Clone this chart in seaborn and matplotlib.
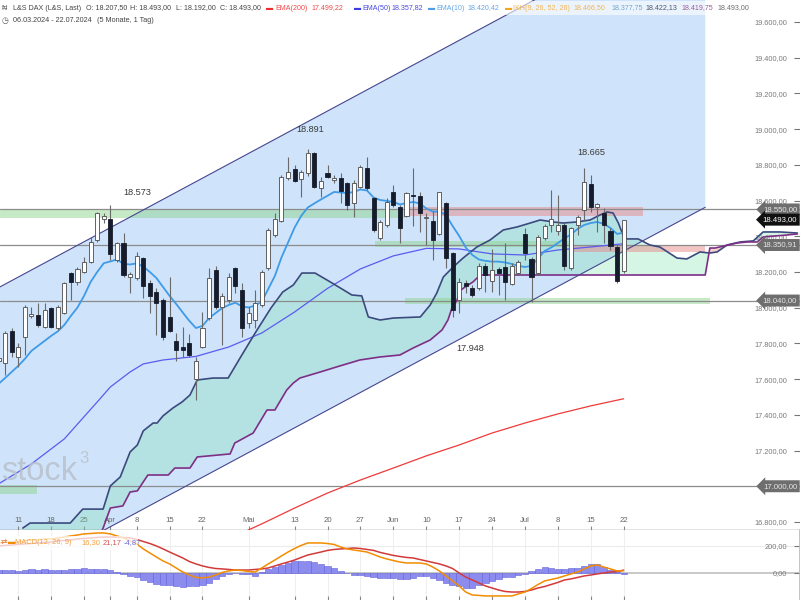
import numpy as np
import pandas as pd
import matplotlib
matplotlib.use("Agg")
import matplotlib.pyplot as plt
from matplotlib.patches import Rectangle
from matplotlib.ticker import FuncFormatter
import seaborn as sns

# L&S DAX daily candles, 06.03.2024 - 22.07.2024 (trading day index 0..95)
opens = [17700, 17690, 17871, 17725, 17836, 17955, 17959, 17894, 17998, 17886,
         17972, 18193, 18146, 18202, 18258, 18379, 18495, 18495, 18267, 18364,
         18174, 18165, 18277, 18140, 18090, 18043, 17946, 17815, 17782, 17801,
         17599, 17782, 17941, 18211, 18006, 18043, 18221, 18099, 17913, 17931,
         18015, 18221, 18407, 18487, 18725, 18777, 18719, 18753, 18868, 18672,
         18753, 18715, 18728, 18697, 18585, 18678, 18784, 18613, 18389, 18463,
         18646, 18566, 18514, 18631, 18626, 18501, 18487, 18413, 18588, 18305,
         18043, 18138, 18109, 18109, 18234, 18151, 18217, 18226, 18133, 18193,
         18413, 18271, 18193, 18389, 18463, 18431, 18463, 18221, 18463, 18547,
         18693, 18566, 18532, 18431, 18342, 18207.5]
highs = [17760, 17870, 17886, 17802, 18015, 18006, 18026, 18026, 18004, 18015,
         18146, 18202, 18228, 18286, 18398, 18538, 18529, 18573, 18370, 18417,
         18202, 18314, 18286, 18155, 18109, 18053, 18174, 17857, 17894, 17853,
         17726, 17978, 18221, 18234, 18081, 18193, 18230, 18137, 18006, 18099,
         18211, 18444, 18529, 18743, 18846, 18799, 18770, 18891, 18874, 18730,
         18799, 18743, 18753, 18706, 18715, 18799, 18846, 18622, 18491, 18613,
         18687, 18575, 18650, 18781, 18650, 18529, 18541, 18650, 18594, 18314,
         18165, 18155, 18127, 18248, 18248, 18331, 18230, 18361, 18248, 18267,
         18444, 18286, 18407, 18470, 18659, 18631, 18473, 18454, 18520, 18781,
         18743, 18585, 18556, 18444, 18351, 18493]
lows = [17640, 17623, 17724, 17668, 17735, 17942, 17892, 17886, 17886, 17875,
        17965, 18043, 18127, 18193, 18252, 18370, 18473, 18267, 18258, 18174,
        18081, 18155, 18053, 17969, 17847, 17819, 17866, 17703, 17726, 17726,
        17483, 17773, 17930, 17995, 17791, 18025, 18081, 17838, 17885, 17885,
        18006, 18211, 18398, 18482, 18715, 18706, 18622, 18740, 18669, 18622,
        18725, 18697, 18585, 18547, 18510, 18669, 18660, 18426, 18379, 18454,
        18566, 18360, 18507, 18460, 18426, 18351, 18267, 18407, 18221, 17948,
        17969, 18081, 18062, 18099, 18090, 18090, 18071, 18043, 18127, 18183,
        18267, 18034, 18183, 18379, 18426, 18407, 18211, 18211, 18407, 18491,
        18538, 18426, 18360, 18323, 18137, 18192]
closes = [17720, 17858, 17754, 17782, 18004, 17965, 17903, 17987, 17892, 18006,
          18138, 18146, 18215, 18258, 18370, 18529, 18514, 18301, 18361, 18183,
          18188, 18290, 18122, 18066, 18028, 17838, 17871, 17763, 17763, 17735,
          17703, 17885, 18165, 18006, 18066, 18174, 18123, 17885, 17969, 18025,
          18202, 18435, 18495, 18730, 18758, 18711, 18762, 18868, 18678, 18711,
          18734, 18728, 18655, 18575, 18697, 18790, 18669, 18435, 18482, 18594,
          18575, 18444, 18644, 18626, 18533, 18507, 18379, 18646, 18277, 17987,
          18146, 18122, 18071, 18234, 18183, 18211, 18193, 18146, 18234, 18258,
          18308, 18170, 18398, 18458, 18495, 18463, 18234, 18445, 18510, 18706,
          18562, 18579, 18463, 18346, 18151, 18493]

tick_idx = [3, 8, 13, 17, 21, 26, 31, 38, 45, 50, 55, 60, 65, 70, 75, 80, 85, 90, 95]
tick_lbl = ['11', '18', '25', 'Apr', '8', '15', '22', 'Mai', '13', '20', '27',
            'Jun', '10', '17', '24', 'Jul', '8', '15', '22']

ema10 = [17573, 17606, 17640, 17674, 17713, 17758, 17786, 17814, 17842, 17867,
         17903, 17954, 18001, 18066, 18144, 18200, 18249, 18259, 18270, 18245,
         18242, 18248, 18230, 18200, 18166, 18116, 18066, 18021, 17973, 17926,
         17886, 17898, 17942, 17970, 17998, 18015, 18028, 18007, 18001, 18012,
         18034, 18105, 18178, 18281, 18365, 18449, 18514, 18561, 18584, 18606,
         18627, 18648, 18645, 18642, 18648, 18662, 18656, 18617, 18603, 18598,
         18592, 18578, 18586, 18592, 18584, 18556, 18538, 18538, 18519, 18458,
         18402, 18337, 18295, 18270, 18262, 18258, 18258, 18253, 18245, 18234,
         18228, 18234, 18276, 18318, 18337, 18362, 18388, 18410, 18441, 18463,
         18474, 18480, 18469, 18446, 18413, 18420]
ema50_idx = [0, 5, 10, 15, 17, 20, 22, 25, 30, 35, 40, 45, 50, 55, 60, 65, 70,
             75, 80, 85, 90, 95]
ema50_val = [17013, 17125, 17265, 17472, 17556, 17640, 17685, 17707, 17727, 17780,
             17858, 17976, 18108, 18217, 18290, 18332, 18329, 18301, 18295, 18323,
             18340, 18358]
ema200_idx = [36, 40, 45, 50, 55, 60, 65, 70, 75, 80, 85, 90, 95]
ema200_val = [16722, 16789, 16878, 16962, 17035, 17102, 17170, 17231, 17298,
              17354, 17405, 17450, 17490]

# Ichimoku spans (already shifted 26 days ahead)
span_a_idx = [3.7, 4.8, 10.9, 12.8, 15.9, 17.0, 18.5, 20.0, 21.1, 22.0, 23.5, 24.1,
              25.0, 26.5, 27.9, 29.1, 30.2, 32.6, 34.9, 36.9, 39.0, 41.4, 43.2, 44.8,
              46.1, 48.1, 50.7, 53.7, 55.2, 56.2, 58.0, 60.0, 64.1, 65.6, 66.6, 67.6,
              69.1, 70.6, 72.7, 74.7, 76.7, 78.8, 80.8, 82.3, 84.3, 85.8, 87.9, 89.9,
              91.4, 92.5, 93.4, 94.2, 94.9, 95.5, 97.2, 99.0, 100.5, 103.1, 104.6,
              106.6, 108.1, 109.2, 110.7, 112.7, 114.7, 116.2, 118.8, 121.4]
span_a_val = [16766, 16794, 16794, 16872, 16872, 17002, 17052, 17192, 17231, 17310,
              17354, 17354, 17394, 17438, 17472, 17511, 17595, 17606, 17606, 17730,
              17858, 17998, 18088, 18127, 18194, 18194, 18138, 18071, 18066, 17948,
              17931, 17942, 17948, 18015, 18082, 18172, 18228, 18278, 18340, 18379,
              18435, 18452, 18474, 18491, 18480, 18474, 18480, 18491, 18519, 18536,
              18530, 18474, 18407, 18385, 18385, 18351, 18340, 18278, 18273, 18312,
              18306, 18312, 18351, 18368, 18374, 18424, 18424, 18418]
span_b_idx = [3.7, 15.0, 15.9, 17.0, 18.9, 20.0, 21.1, 22.7, 25.8, 26.8, 29.1, 30.2,
              35.2, 35.9, 38.7, 40.8, 42.0, 43.8, 44.8, 45.8, 48.9, 51.9, 54.9, 58.0,
              61.0, 63.0, 65.6, 67.4, 68.3, 68.9, 69.7, 70.1, 70.9, 72.1, 73.2, 107.4,
              108.1, 108.9, 112.2, 113.8, 115.3, 116.2, 119.8, 121.4]
span_b_val = [16600, 16700, 16766, 16878, 16890, 16968, 16974, 17063, 17063, 17102,
              17102, 17164, 17181, 17242, 17298, 17427, 17427, 17539, 17578, 17606,
              17640, 17674, 17707, 17724, 17735, 17774, 17819, 17875, 17931, 17998,
              18043, 18094, 18116, 18144, 18183, 18183, 18334, 18334, 18362, 18368,
              18368, 18396, 18407, 18413]

# trend channel (two anchor points per line)
channel_idx = [-5, 107.4]
channel_upper = [18013, 20237]
channel_lower = [16338, 18562]

# horizontal levels and zones
levels = [18550, 18350.91, 18040, 17000]
zone_x0 = [-2, 61.8, 57.2, 87.3, 61.8, -2]
zone_x1 = [61.8, 97.9, 87.3, 107.4, 108.1, 5.85]
zone_lo = [18505, 18512, 18338, 18310, 18020, 16955]
zone_hi = [18555, 18562, 18372, 18352, 18055, 17005]
zone_kind = ['g', 'r', 'g', 'r', 'g', 'g']

tag_vals = [18550, 18493, 18350.91, 18040, 17000]
tag_dark = [False, True, False, False, False]

# swing labels: candle index, text
swing_idx = [17, 47, 89, 69]
swing_text = ['18.573', '18.891', '18.665', '17.948']

macd_line = [222, 229, 229, 229, 237, 244, 244, 252, 252, 259,
             266, 274, 281, 289, 292, 296, 296, 289, 274, 259,
             237, 215, 178, 148, 118, 89, 67, 37, 7, -15,
             -33, -37, -30, -15, 4, 15, 22, 18, 11, 7,
             37, 67, 96, 126, 155, 181, 204, 222, 222, 222,
             218, 211, 192, 178, 170, 163, 155, 137, 118, 104,
             92, 81, 74, 74, 74, 67, 44, 15, -22, -59,
             -96, -141, -163, -166, -170, -170, -170, -170, -170, -155,
             -141, -115, -85, -59, -48, -37, -22, -7, 7, 30,
             52, 59, 44, 30, 15, 16.3]
macd_signal = [200, 204, 207, 211, 215, 218, 222, 226, 229, 237,
               241, 244, 252, 255, 259, 263, 266, 266, 266, 263,
               259, 248, 233, 218, 200, 178, 155, 133, 111, 85,
               67, 52, 41, 33, 30, 26, 22, 22, 22, 26,
               30, 37, 52, 67, 81, 96, 115, 133, 144, 155,
               167, 174, 178, 181, 185, 181, 174, 167, 152, 141,
               130, 122, 115, 111, 100, 89, 78, 67, 52, 33,
               0, -30, -52, -74, -96, -111, -126, -137, -141, -141,
               -137, -126, -111, -100, -85, -70, -52, -44, -33, -22,
               -15, -7, 0, 7, 11, 21.17]


def de(v):
    s = f"{v:,.2f}"
    return s.replace(',', ' ').replace('.', ',').replace(' ', '.')


def axis_label(v, pos):
    # the tag already prints this level
    if any(abs(v - t) < 1 for t in tag_vals):
        return ''
    return de(v)


sns.set_theme(style='white')
plt.rcParams['font.family'] = ['Liberation Sans', 'DejaVu Sans']

df = pd.DataFrame({'open': opens, 'high': highs, 'low': lows, 'close': closes})
df['idx'] = np.arange(len(df))
df['up'] = df['close'] >= df['open']
df['bottom'] = df[['open', 'close']].min(axis=1)
df['body'] = (df['close'] - df['open']).abs().clip(lower=4)

fig = plt.figure(figsize=(8, 6), dpi=100)
fig.patch.set_facecolor('white')
ax = fig.add_axes([0, 70 / 600, 1, 530 / 600])
axm = fig.add_axes([0, 0, 1, 70 / 600])

# channel
ax.fill_between(channel_idx, channel_lower, channel_upper, color='#cfe4fa', lw=0, zorder=0.5)

# ichimoku cloud
grid = np.union1d(span_a_idx, span_b_idx)
sa = np.interp(grid, span_a_idx, span_a_val)
sb_ = np.interp(grid, span_b_idx, span_b_val)
ax.fill_between(grid, sa, sb_, where=sa >= sb_, interpolate=True, color='#7ee0b0', alpha=0.32, lw=0, zorder=1)
ax.fill_between(grid, sa, sb_, where=sa < sb_, interpolate=True, color='#f07a7a', alpha=0.35, lw=0, zorder=1)

# zones
for x0, x1, lo, hi, k in zip(zone_x0, zone_x1, zone_lo, zone_hi, zone_kind):
    c = '#8fd48f' if k == 'g' else '#e88a8a'
    ax.fill_between([x0, x1], lo, hi, color=c, alpha=0.5, lw=0, zorder=1.2)

for v in levels:
    ax.axhline(v, color='#8c8c8c', lw=0.9, zorder=1.5)

sns.lineplot(x=ema200_idx, y=ema200_val, ax=ax, color='#f03a3a', lw=0.9, zorder=2)
sns.lineplot(x=ema50_idx, y=ema50_val, ax=ax, color='#5b5bef', lw=0.9, zorder=2)
sns.lineplot(x=span_a_idx, y=span_a_val, ax=ax, color='#3b4a7d', lw=1.2, zorder=2.2)
sns.lineplot(x=span_b_idx, y=span_b_val, ax=ax, color='#7d2f86', lw=1.2, zorder=2.2)
sns.lineplot(x=channel_idx, y=channel_upper, ax=ax, color='#46468f', lw=0.8, zorder=2.3)
sns.lineplot(x=channel_idx, y=channel_lower, ax=ax, color='#46468f', lw=0.8, zorder=2.3)
sns.lineplot(x=df['idx'], y=ema10, ax=ax, color='#3f9ae8', lw=1.3, zorder=2.4)

# candles
ax.vlines(df['idx'], df['low'], df['high'], color='#6a6a6a', lw=0.8, zorder=2.8)
up = df[df['up']]
dn = df[~df['up']]
ax.bar(up['idx'], up['body'], bottom=up['bottom'], width=0.62, color='white',
       edgecolor='#4a4a4a', linewidth=0.6, zorder=3)
ax.bar(dn['idx'], dn['body'], bottom=dn['bottom'], width=0.62, color='#161c2c',
       edgecolor='#161c2c', linewidth=0.6, zorder=3)

# swing labels
offsets = [(19.5, 9.5), (1.5, 13.5), (5.5, 11), (12.5, -22.5)]
for i, t, off in zip(swing_idx, swing_text, offsets):
    y = df.loc[i, 'low'] if t == '17.948' else df.loc[i, 'high']
    ax.annotate(t, xy=(i, y), xytext=off, textcoords='offset points', ha='center',
                va='center', fontsize=6.6, color='#3a3a3a', zorder=4)

ax.set_xlim(0.228, 121.8)
ax.set_ylim(16755, 19723)
ax.set_xlabel('')
ax.set_ylabel('')
ax.yaxis.tick_right()
ax.set_yticks(np.arange(16800, 19601, 200))
ax.yaxis.set_major_formatter(FuncFormatter(axis_label))
ax.tick_params(axis='y', which='both', direction='in', length=4, width=0.8, pad=-9.4,
               labelsize=5.3, color='#777777', labelcolor='#7a7a7a', right=True, left=False)
ax.set_xticks(tick_idx, tick_lbl)
ax.tick_params(axis='x', direction='in', length=3, width=0.8, pad=-9.5, labelsize=5.6,
               color='#888888', labelcolor='#666666', bottom=True)
for s in ['top', 'left', 'right']:
    ax.spines[s].set_visible(False)
ax.spines['bottom'].set_color('#777777')
ax.spines['bottom'].set_linewidth(1.0)
plt.setp(ax.get_yticklabels(), ha='right')

# price tags on the right axis
for v, dark in zip(tag_vals, tag_dark):
    fc = '#111111' if dark else '#6e6e6e'
    tc = 'white' if dark else '#e6e6e6'
    ax.annotate(de(v), xy=(1, v), xycoords=('axes fraction', 'data'), xytext=(-2, 0),
                textcoords='offset points', ha='right', va='center', fontsize=5.6,
                color=tc, zorder=6, annotation_clip=False,
                bbox=dict(boxstyle='larrow,pad=0.32', fc=fc, ec='none'))

# MACD panel
hist = np.array(macd_line) - np.array(macd_signal)
axm.set_xlim(0.228, 121.8)
axm.set_ylim(-200, 318)
for t in tick_idx:
    axm.axvline(t, color='#efefef', lw=0.8, zorder=0)
axm.axhline(200, color='#ececec', lw=0.8, zorder=0)
axm.axhline(0, color='#c4c4c4', lw=1.3, zorder=0.5)
axm.bar(df['idx'], hist, width=0.95, color='#8c8cf0', edgecolor='#6262d8', linewidth=0.4, zorder=1)
sns.lineplot(x=df['idx'], y=macd_signal, ax=axm, color='#d23a3a', lw=1.1, zorder=2)
sns.lineplot(x=df['idx'], y=macd_line, ax=axm, color='#f28c00', lw=1.1, zorder=2.1)
axm.set_xlabel('')
axm.set_ylabel('')
axm.yaxis.tick_right()
axm.set_yticks([0, 200])
axm.yaxis.set_major_formatter(FuncFormatter(lambda v, p: de(v)))
axm.tick_params(axis='y', direction='in', length=4, width=0.8, pad=-9.4, labelsize=5.3,
                color='#777777', labelcolor='#7a7a7a', right=True, left=False)
axm.set_xticks(tick_idx)
axm.tick_params(axis='x', direction='in', length=3, width=0.8, color='#888888',
                labelbottom=False, bottom=True)
for s in ['top', 'left', 'bottom']:
    axm.spines[s].set_visible(False)
axm.spines['right'].set_color('#bbbbbb')
plt.setp(axm.get_yticklabels(), ha='right')

# MACD legend
axm.add_patch(Rectangle((0, 0.71), 0.172, 0.2, transform=axm.transAxes, fc='white',
                        alpha=0.75, ec='none', zorder=3))
for x, t, c in [(1, '⇄', '#e07030'), (8, '▬', '#f28c00'), (15, 'MACD(12, 26, 9)', '#f2a040'),
                (81, '16,30', '#f2a040'), (103, '21,17', '#d85050'), (124, '-4,87', '#6a6ad8')]:
    fig.text(x / 800, 1 - 543 / 600, t, fontsize=5.4, color=c, va='center', ha='left', zorder=4)

# header
fig.patches.append(Rectangle((0, 1 - 15 / 600), 752 / 800, 14 / 600, transform=fig.transFigure,
                             fc='white', alpha=0.6, ec='none', zorder=3))
header = [(2, '₦', '#666666'), (13, 'L&S DAX (L&S, Last)', '#444444'),
          (86, 'O: 18.207,50', '#444444'), (130, 'H: 18.493,00', '#444444'),
          (176, 'L: 18.192,00', '#444444'), (220, 'C: 18.493,00', '#444444'),
          (266, '▬', '#e83030'), (275, 'EMA(200)', '#f04848'), (312, '17.499,22', '#f04848'),
          (354, '▬', '#3c3ce0'), (362, 'EMA(50)', '#4a4ae6'), (392, '18.357,82', '#4a4ae6'),
          (428, '▬', '#4f9ee8'), (436, 'EMA(10)', '#63a8ea'), (468, '18.420,42', '#63a8ea'),
          (505, '▬', '#f2a424'), (513, 'IKH(9, 26, 52, 26)', '#f4b450'),
          (574, '18.466,50', '#f4b450'), (611, '18.377,75', '#72a6cc'),
          (645, '18.422,13', '#4d5673'), (682, '18.419,75', '#9a5d9a'),
          (717, '18.493,00', '#6d6d6d')]
for x, t, c in header:
    fig.text(x / 800, 1 - 8 / 600, t, fontsize=5.1, color=c, va='center', ha='left', zorder=4)
fig.text(2 / 800, 1 - 21 / 600, '◷', fontsize=5.6, color='#555555', va='center', ha='left')
fig.text(13 / 800, 1 - 21 / 600, '06.03.2024 - 22.07.2024', fontsize=5.2, color='#444444',
         va='center', ha='left')
fig.text(97 / 800, 1 - 21 / 600, '(5 Monate, 1 Tag)', fontsize=5.2, color='#444444',
         va='center', ha='left')

# watermark
fig.text(1 / 800, 1 - 480 / 600, 'stock', fontsize=23.5, color='#b9c1cc', alpha=0.85,
         va='baseline', ha='left')
fig.text(79 / 800, 1 - 463 / 600, '3', fontsize=12, color='#b9c1cc', alpha=0.85,
         va='baseline', ha='left')

fig.savefig('out.png', dpi=100)
